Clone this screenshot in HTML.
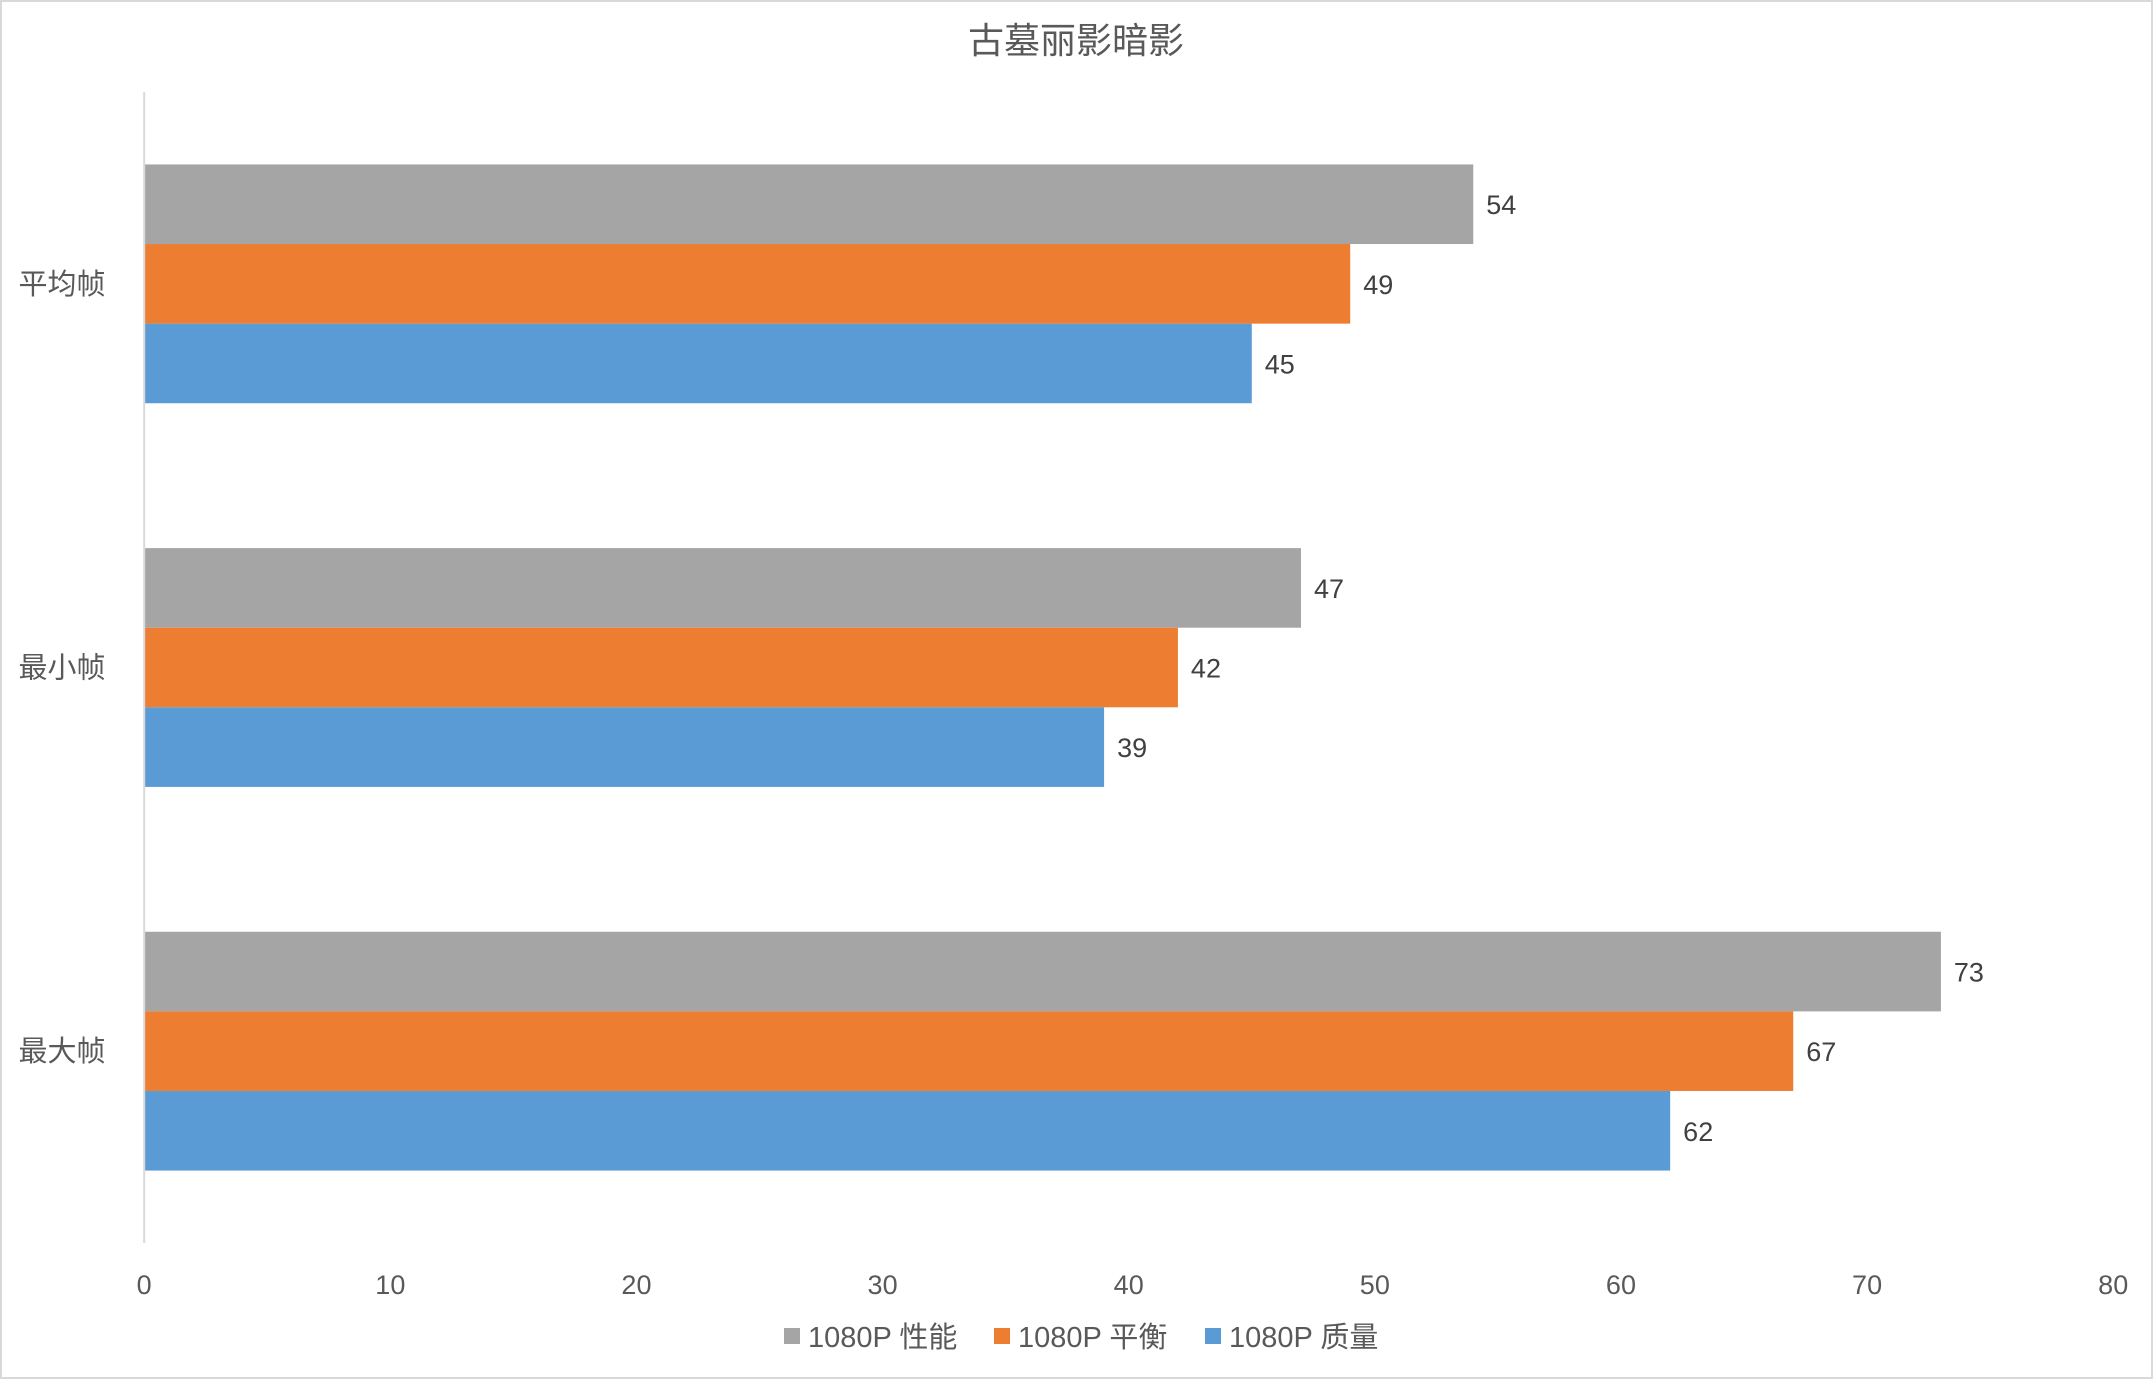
<!DOCTYPE html>
<html><head><meta charset="utf-8"><style>
html,body{margin:0;padding:0;background:#fff}
svg{display:block;font-family:"Liberation Sans","Noto Sans CJK SC",sans-serif}
</style></head><body>
<svg id="chart" width="2153" height="1379" viewBox="0 0 2153 1379" xmlns="http://www.w3.org/2000/svg">
<rect x="1" y="1" width="2151" height="1377" fill="#fff" stroke="#d9d9d9" stroke-width="2"/>
<text x="1076" y="53" font-size="36" fill="#595959" text-anchor="middle">古墓丽影暗影</text>
<g id="plot"></g>
<g id="legend"></g>
</svg>
<script>
const categories = ["平均帧","最小帧","最大帧"];
const seriesNames = ["1080P 性能","1080P 平衡","1080P 质量"];
const perfValues = [54,47,73];
const balanceValues = [49,42,67];
const qualityValues = [45,39,62];
const ticks = [0,10,20,30,40,50,60,70,80];
const colors = ["#a5a5a5","#ed7d31","#5b9bd5"];
const series = [perfValues,balanceValues,qualityValues];

const NS="http://www.w3.org/2000/svg";
const x0=144.2,x1=2113.2,xmax=80,plotTop=92,plotBottom=1243;
const band=(plotBottom-plotTop)/categories.length, barH=79.6;
const xs=v=>x0+(x1-x0)*v/xmax;
const plot=document.getElementById('plot');
function mk(tag,attrs,parent){const e=document.createElementNS(NS,tag);for(const k in attrs)e.setAttribute(k,attrs[k]);parent.appendChild(e);return e;}

ticks.forEach(t=>{
  const e=mk('text',{x:xs(t),y:1294,'font-size':27,fill:'#595959','text-anchor':'middle'},plot);
  
  
  e.textContent=t;
});
categories.forEach((c,i)=>{
  const bt=plotTop+band*i, start=bt+band/2-barH*1.5;
  const lab=mk('text',{x:62,y:bt+band/2+10,'font-size':29,fill:'#595959','text-anchor':'middle'},plot);
  
  
  lab.textContent=c;
  series.forEach((s,j)=>{
    const y=start+barH*j;
    const r=mk('rect',{x:x0,y:y,width:xs(s[i])-x0,height:barH,fill:colors[j]},plot);
    
    
    const v=mk('text',{x:xs(s[i])+13,y:y+barH/2+10,'font-size':27,fill:'#404040'},plot);
    
    
    v.textContent=s[i];
  });
});
const ax=mk('line',{x1:x0,y1:plotTop,x2:x0,y2:plotBottom,stroke:'#d9d9d9','stroke-width':2},plot);



const lg=document.getElementById('legend');
const lx=[784,994,1205];
seriesNames.forEach((n,j)=>{
  const sq=mk('rect',{x:lx[j],y:1328,width:16,height:16,fill:colors[j]},lg);
  
  
  const t=mk('text',{x:lx[j]+24,y:1347,'font-size':29,fill:'#595959'},lg);
  
  
  t.textContent=n;
});
</script>
</body></html>
